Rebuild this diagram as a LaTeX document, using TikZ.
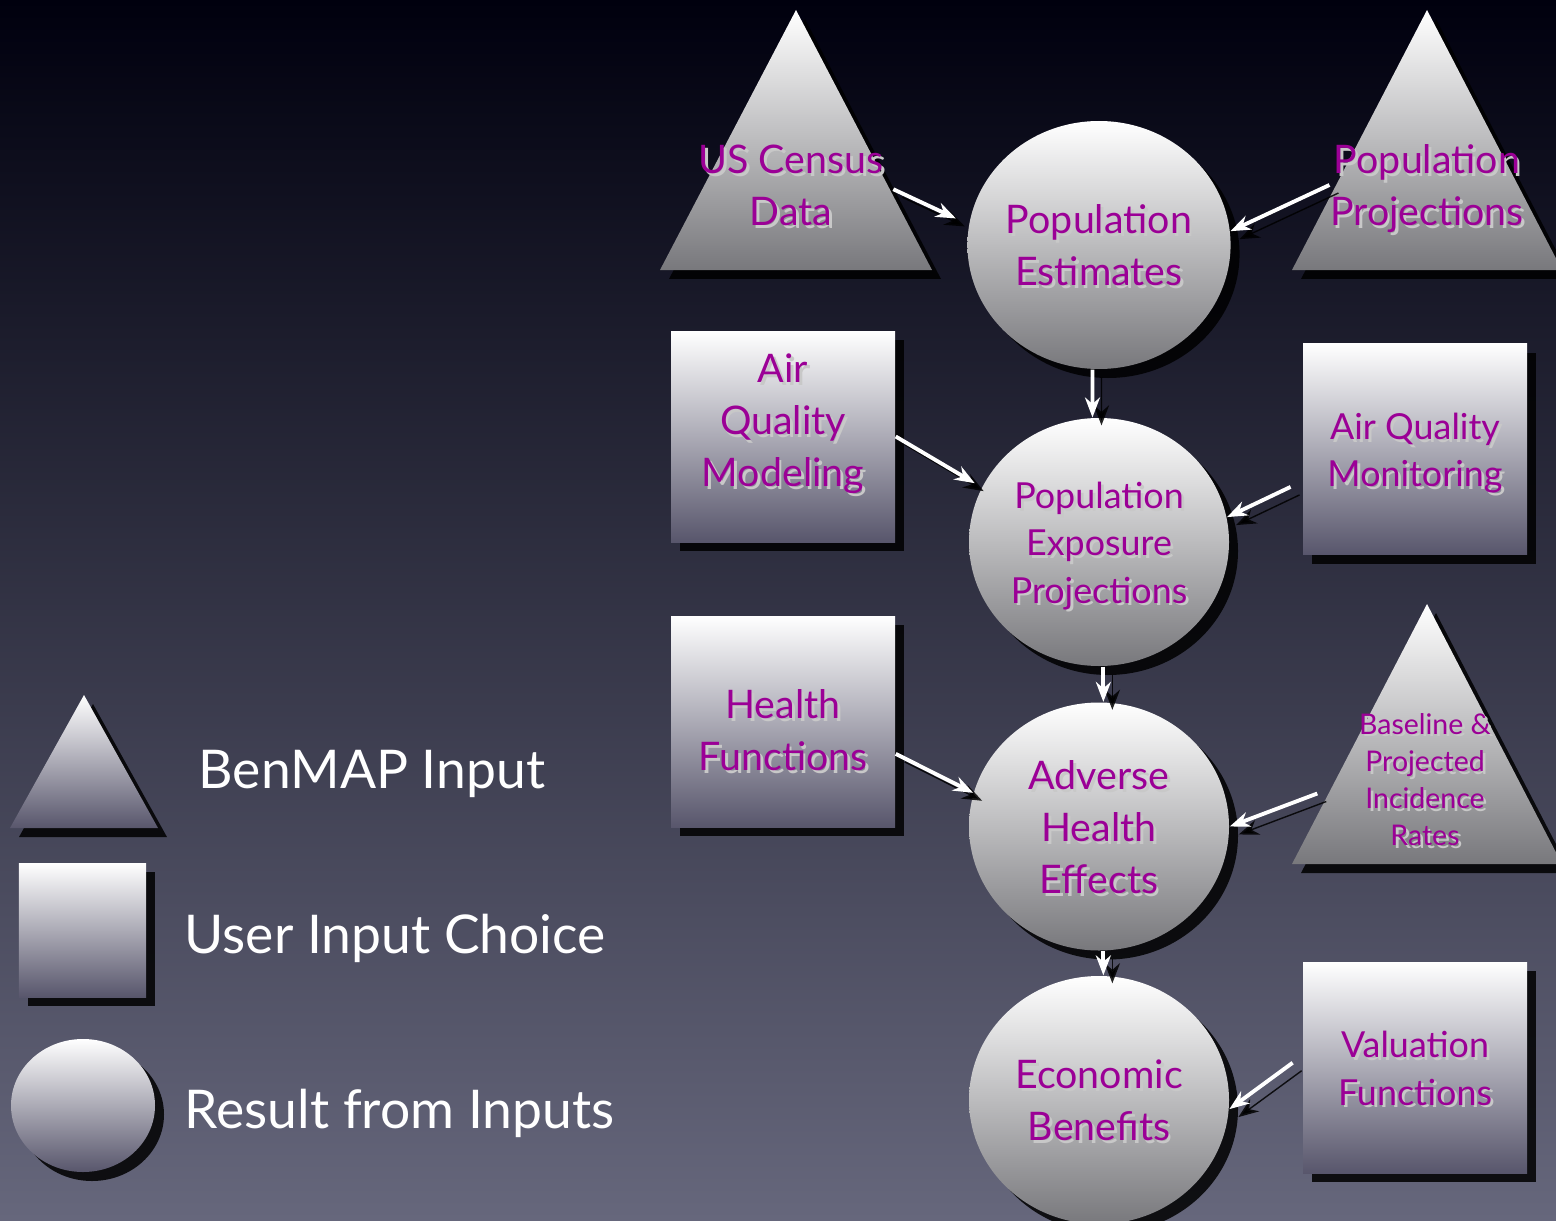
\documentclass[tikz,border=0pt]{standalone}
\usepackage{fontspec}
\setmainfont{Lato}
\usepackage{tikz}
\usetikzlibrary{arrows.meta,shapes.geometric,shadows}
\usepackage{xcolor}

\definecolor{bgtop}{RGB}{0,0,14}
\definecolor{bgmid}{RGB}{44,44,78}
\definecolor{bgbot}{RGB}{102,103,124}
\definecolor{shapegray}{RGB}{120,120,124}
\definecolor{shapelilac}{RGB}{88,86,108}
\definecolor{labelplum}{RGB}{155,0,150}
\definecolor{txtshade}{RGB}{200,200,200}

\newcommand\bigfnt{\fontsize{11.2}{14.8}\selectfont}
\newcommand\midfnt{\fontsize{10.2}{13.4}\selectfont}
\newcommand\smallfnt{\fontsize{8.1}{10.6}\selectfont}
\newcommand\keyfnt{\fontsize{15.2}{18}\selectfont}

% centred lines with a light copy set just below and to the right
\newcommand\txtsh[1]{%
  \setbox0=\hbox{\begin{tabular}{@{}c@{}}#1\end{tabular}}%
  \raisebox{-1.7pt}[\height][\depth]{%
    \rlap{\kern.8pt\raisebox{-.8pt}{\color{txtshade}\copy0}}\box0}}

\begin{document}
\begin{tikzpicture}[>={Stealth[length=2mm]},
  shd/.style={drop shadow={shadow xshift=.09cm,shadow yshift=-.09cm,fill=black,opacity=.85}},
  result/.style={ellipse,shd,top color=white,bottom color=shapegray,minimum width=2.6cm,minimum height=2.48cm,inner sep=0pt,text=labelplum,font=\bigfnt},
  choice/.style={rectangle,shd,top color=white,bottom color=shapelilac,minimum width=2.24cm,minimum height=2.11cm,inner sep=0pt,text=labelplum,font=\bigfnt},
  inputtri/.style={shd,top color=white,bottom color=shapegray},
  lbl/.style={inner sep=0pt,text=labelplum,font=\bigfnt},
  flow/.style={->,white,line width=1.1pt,preaction={draw=black,opacity=.85,transform canvas={xshift=.09cm,yshift=-.08cm}}},
  keytext/.style={anchor=base west,inner sep=0pt,text=white,font=\keyfnt}]
\useasboundingbox (0,0) rectangle (15.56,12.2);
\fill[top color=bgtop,middle color=bgmid,bottom color=bgbot] (0,0) rectangle (15.56,12.2);
\clip (0,0) rectangle (15.56,12.2);

% key
\path[inputtri,bottom color=shapelilac] (0.84,5.25) -- (0.10,3.92) -- (1.58,3.92) -- cycle;
\node[choice,minimum width=1.27cm,minimum height=1.34cm] (keybox) at (0.825,2.90) {};
\node[result,bottom color=shapelilac,minimum width=1.44cm,minimum height=1.33cm] (keyball) at (0.83,1.145) {};
\node[keytext] (kin) at (1.98,4.32) {BenMAP Input};
\node[keytext] (kch) at (1.84,2.67) {User Input Choice};
\node[keytext] (kres) at (1.84,0.92) {Result from Inputs};

% inputs
\path[inputtri] (7.96,12.10) -- (6.60,9.50) -- (9.32,9.50) -- cycle;
\path[inputtri] (14.27,12.10) -- (12.92,9.50) -- (15.62,9.50) -- cycle;
\path[inputtri] (14.27,6.16) -- (12.92,3.56) -- (15.62,3.56) -- cycle;
\node[lbl] (census) at (7.91,10.35) {\txtsh{US Census\\Data}};
\node[lbl] (proj) at (14.27,10.35) {\txtsh{Population\\Projections}};
\node[lbl,font=\smallfnt] (incid) at (14.25,4.42) {\txtsh{Baseline \&\\Projected\\Incidence\\Rates}};

% user choices
\node[choice] (aqm) at (7.83,7.835) {\raisebox{.17cm}[\height][\depth]{\txtsh{Air\\Quality\\Modeling}}};
\node[choice,font=\midfnt] (mon) at (14.15,7.71) {\txtsh{Air Quality\\Monitoring}};
\node[choice] (hf) at (7.83,4.985) {\raisebox{-.08cm}[\height][\depth]{\txtsh{Health\\Functions}}};
\node[choice,font=\midfnt] (val) at (14.15,1.525) {\txtsh{Valuation\\Functions}};

% results
\node[result] (est) at (10.99,9.75) {\txtsh{Population\\Estimates}};
\node[result,font=\midfnt] (expo) at (10.99,6.78) {\txtsh{Population\\Exposure\\Projections}};
\node[result] (adverse) at (10.99,3.935) {\txtsh{Adverse\\Health\\Effects}};
\node[result] (econ) at (10.99,1.20) {\txtsh{Economic\\Benefits}};

\draw[flow,shorten <=1mm,shorten >=1.4mm] (census.east) -- (est.171);
\draw[flow] (proj.west) -- (est.6);
\draw[flow] (est.-93) -- (expo.93);
\draw[flow,shorten >=.8mm] (aqm.east) -- (expo.155);
\draw[flow,shorten <=1.3mm] (mon.196) -- (expo.11);
\draw[flow] (expo.-88) -- (adverse.88);
\draw[flow] (hf.-16) -- (adverse.165);
\draw[flow,shorten <=4.4mm] (incid.west) -- (adverse.0);
\draw[flow] (adverse.-88) -- (econ.88);
\draw[flow,shorten <=1.2mm] (val.174) -- (econ.-4);
\end{tikzpicture}
\end{document}
